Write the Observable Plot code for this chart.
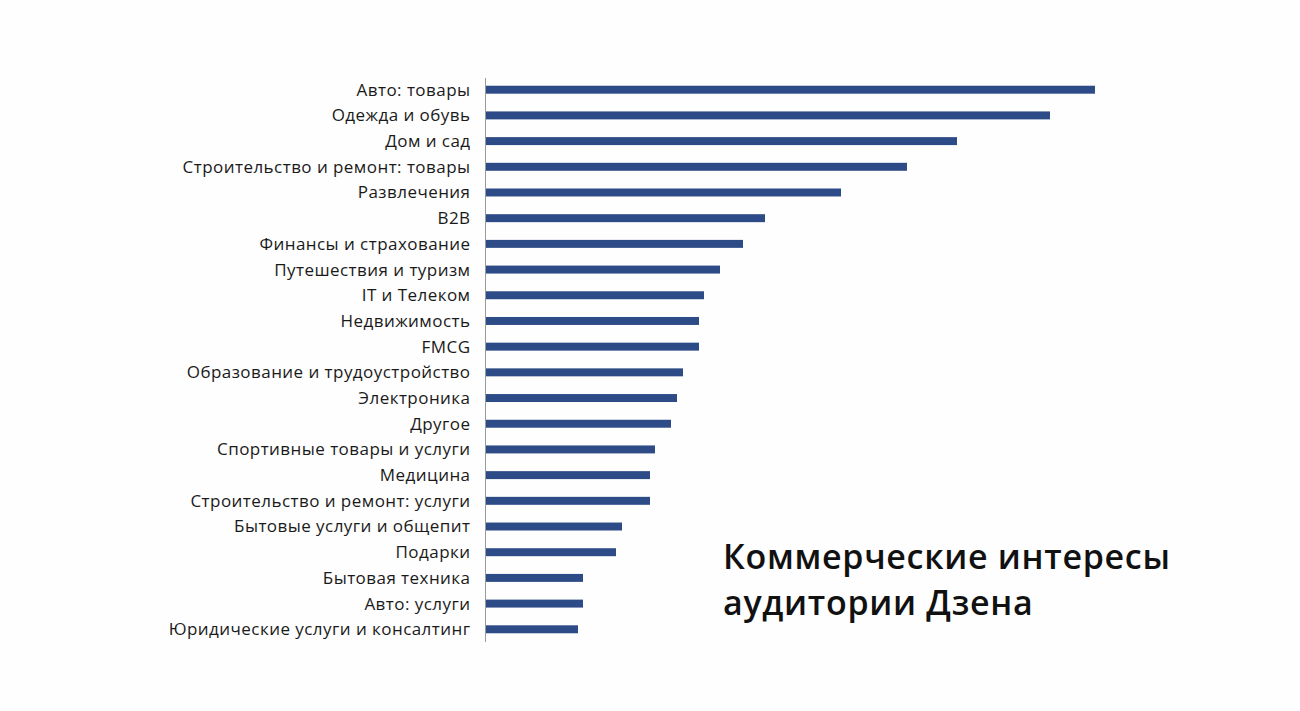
<!DOCTYPE html>
<html>
<head>
<meta charset="utf-8">
<script src="https://cdn.jsdelivr.net/npm/d3@7"></script>
<script src="https://cdn.jsdelivr.net/npm/@observablehq/plot@0.6"></script>
<style>
  html, body { margin: 0; padding: 0; background: #fefefe; }
  #wrap { position: relative; width: 1300px; height: 711px; }
  #title {
    position: absolute; left: 723px; top: 533px;
    font-family: "Open Sans", "Noto Sans", sans-serif;
    font-size: 34px; font-weight: 600; line-height: 46px; color: #111;
    letter-spacing: 0.7px;
  }
</style>
</head>
<body>
<div id="wrap">
  <div id="chart"></div>
  <div id="title">Коммерческие интересы<br>аудитории Дзена</div>
</div>
<script>
const categories = [
  "Авто: товары",
  "Одежда и обувь",
  "Дом и сад",
  "Строительство и ремонт: товары",
  "Развлечения",
  "B2B",
  "Финансы и страхование",
  "Путешествия и туризм",
  "IT и Телеком",
  "Недвижимость",
  "FMCG",
  "Образование и трудоустройство",
  "Электроника",
  "Другое",
  "Спортивные товары и услуги",
  "Медицина",
  "Строительство и ремонт: услуги",
  "Бытовые услуги и общепит",
  "Подарки",
  "Бытовая техника",
  "Авто: услуги",
  "Юридические услуги и консалтинг"
];
// relative interest (arbitrary units)
const values = [610, 565, 472, 422, 356, 280, 258, 235, 219, 214, 214, 198, 192, 186, 170, 165, 165, 137, 131, 98, 98, 93];

const data = categories.map((c, i) => ({category: c, value: values[i]}));

const chart = Plot.plot({
  width: 1300,
  height: 711,
  marginLeft: 485,
  marginRight: 115,
  marginTop: 68,
  marginBottom: 60,
  style: {background: "transparent", fontFamily: "'Open Sans', 'Noto Sans', sans-serif", fontSize: "17px", color: "#1a1a1a", letterSpacing: "0.45px"},
  x: {domain: [0, 700], axis: null},
  y: {domain: categories, padding: 0.69, round: false, label: null},
  marks: [
    Plot.barX(data, {x: "value", y: "category", fill: "#2d4b87"}),
    Plot.ruleX([0], {stroke: "#9a9a9a", strokeWidth: 1, insetTop: 10, insetBottom: 9}),
    Plot.axisY({tickSize: 0, tickPadding: 15, fontSize: 17, label: null})
  ]
});
document.getElementById("chart").append(chart);
</script>
</body>
</html>
